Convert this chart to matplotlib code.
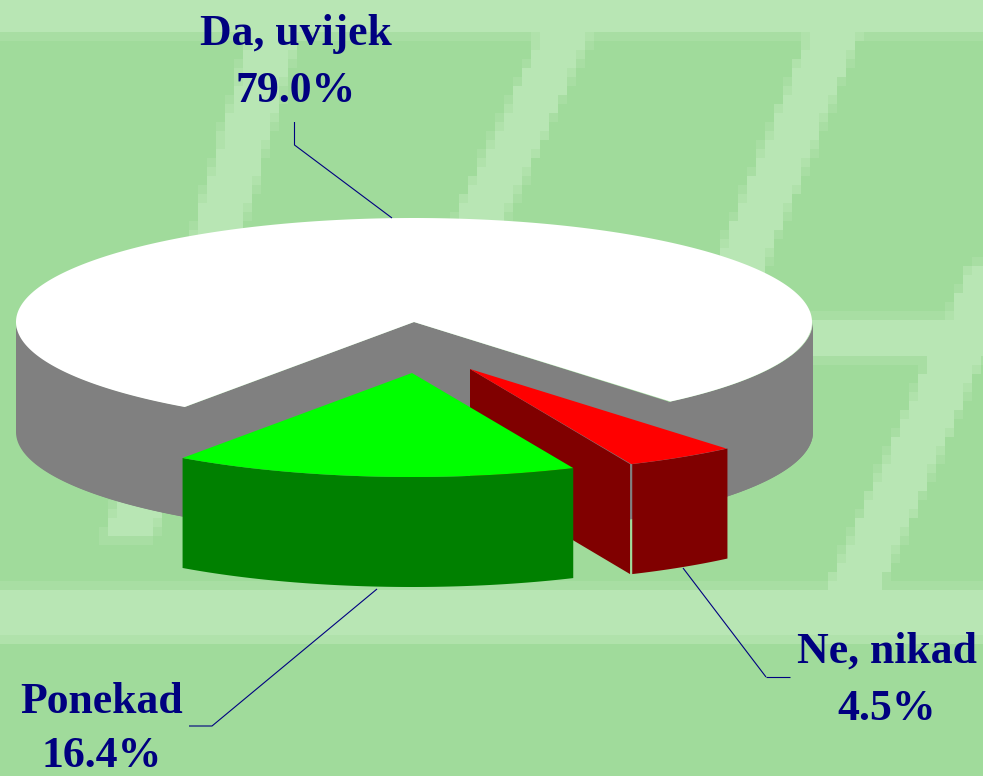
import numpy as np
import matplotlib
matplotlib.use("Agg")
import matplotlib.pyplot as plt
from matplotlib.patches import Polygon

# ---------- data ----------
categories = ["Da, uvijek", "Ne, nikad", "Ponekad"]
values = [79.0, 4.5, 16.4]

top_colors = ["#FFFFFF", "#FF0000", "#00FF00"]
side_colors = ["#808080", "#800000", "#008000"]
text_color = "#000080"

W, H = 983, 776
fig = plt.figure(figsize=(W / 100, H / 100), dpi=100)
ax = fig.add_axes([0, 0, 1, 1])
ax.set_xlim(0, W)
ax.set_ylim(H, 0)
ax.axis("off")

# ---------- blocky background texture ----------
yy, xx = np.mgrid[0:H, 0:W]
xx = xx + 0.5
yy = yy + 0.5


def bar(x_ref, y_ref, slope, width, y0, y1):
    left = x_ref + slope * (yy - y_ref)
    return (xx >= left) & (xx <= left + width) & (yy >= y0) & (yy <= y1)


mask = (
    (yy <= 36)
    | ((yy >= 587) & (yy <= 640))
    | ((yy >= 316) & (yy <= 360) & (xx >= 300) & (xx <= 950))
    | bar(245, 50, -0.29, 50, 0, 540)
    | bar(533, 50, -0.47, 52, 0, 420)
    | bar(802, 50, -0.41, 52, 0, 340)
    | bar(910, 400, -0.44, 54, 262, 590)
)
CELL = 9
rows = ((yy - 5) // CELL).astype(int)
cols = (xx // CELL).astype(int)
rows -= rows.min()
coverage = np.zeros((rows.max() + 1, cols.max() + 1))
counts = np.zeros_like(coverage)
np.add.at(coverage, (rows, cols), mask.astype(float))
np.add.at(counts, (rows, cols), 1.0)
coverage = np.round((coverage / counts)[rows, cols] * 3) / 3
bg = np.array([160, 219, 155], float) / 255
light = np.array([184, 230, 180], float) / 255
image = bg + (light - bg) * coverage[..., None]
ax.imshow(image, extent=(0, W, H, 0), interpolation="nearest", aspect="auto", zorder=0)

# ---------- 3-D pie built from the values ----------
RX, RY = 398.0, 104.0
DEPTH = 110.0
CENTER = (414.0, 322.0)
apex_positions = [CENTER, (470.0, 369.0), (412.0, 373.0)]
START = -125.2  # degrees, measured with y upward, sweeping clockwise on screen

fractions = np.array(values) / np.sum(values)
sweeps = fractions * 360.0
starts = START - np.concatenate([[0.0], np.cumsum(sweeps)[:-1]])
ends = starts - sweeps


def rim(apex, a0, a1, n=None):
    n = n or max(2, int(abs(a1 - a0) * 2))
    t = np.radians(np.linspace(a0, a1, n))
    return np.column_stack([apex[0] + RX * np.cos(t), apex[1] - RY * np.sin(t)])


def add_poly(pts, color, z):
    ax.add_patch(Polygon(pts, closed=True, facecolor=color, edgecolor="none", zorder=z,
                         antialiased=True))


def outer_wall(apex, a0, a1, color, z):
    """Visible part of the outer wall, for angles in the lower half."""
    ts = np.linspace(a0, a1, int(abs(a1 - a0) * 2) + 2)
    low = np.sin(np.radians(ts)) <= 1e-9
    idx = np.where(low)[0]
    groups = np.split(idx, np.where(np.diff(idx) > 1)[0] + 1)
    for g in groups:
        if len(g) < 2:
            continue
        t = np.radians(ts[g])
        upper = np.column_stack([apex[0] + RX * np.cos(t), apex[1] - RY * np.sin(t)])
        lower = upper[::-1] + [0, DEPTH]
        add_poly(np.vstack([upper, lower]), color, z)


def inner_wall(apex, angle, color, z, shift=0.0):
    t = np.radians(angle)
    tip = (apex[0] + RX * np.cos(t) + shift, apex[1] - RY * np.sin(t))
    add_poly([apex, tip, (tip[0], tip[1] + DEPTH), (apex[0], apex[1] + DEPTH)], color, z)


# white (main) slice
inner_wall(apex_positions[0], starts[0], side_colors[0], 2, shift=0.3)
inner_wall(apex_positions[0], ends[0], side_colors[0], 2, shift=-2.0)
outer_wall(apex_positions[0], starts[0], -180.0, side_colors[0], 2)
outer_wall((apex_positions[0][0] + 1.0, apex_positions[0][1]), ends[0], 0.0, side_colors[0], 2)
add_poly(np.vstack([[apex_positions[0]], rim(apex_positions[0], starts[0], ends[0])]), top_colors[0], 3)

# red slice
inner_wall(apex_positions[1], ends[1], side_colors[1], 4, shift=-1.2)
outer_wall((apex_positions[1][0] + 1.0, apex_positions[1][1]), starts[1], ends[1], side_colors[1], 4)
add_poly(np.vstack([[apex_positions[1]], rim(apex_positions[1], starts[1], ends[1])]), top_colors[1], 5)

# green slice
outer_wall(apex_positions[2], starts[2], ends[2], side_colors[2], 6)
add_poly(np.vstack([[apex_positions[2]], rim(apex_positions[2], starts[2], ends[2])]), top_colors[2], 7)

# ---------- leader lines ----------
leaders = [
    ([294.5, 294.5, 392], [122, 145, 218]),
    ([766, 790], [677, 677]),
    ([683, 766], [568, 677]),
    ([189, 212, 377], [726, 726, 589]),
]
for lx, ly in leaders:
    ax.plot(lx, ly, color=text_color, lw=0.8, zorder=8, solid_capstyle="butt")

# ---------- labels ----------
label_anchor = [(296, 45, 102), (887, 663, 720), (102, 713, 767)]
font = dict(family="Liberation Serif", fontweight="bold", fontsize=31.5, color=text_color,
            ha="center", va="baseline", zorder=9)
for name, val, (lx, y1, y2) in zip(categories, values, label_anchor):
    ax.text(lx, y1, name, **font)
    ax.text(lx, y2, f"{val:.1f}%", **font)

fig.savefig("out.png", dpi=100)
